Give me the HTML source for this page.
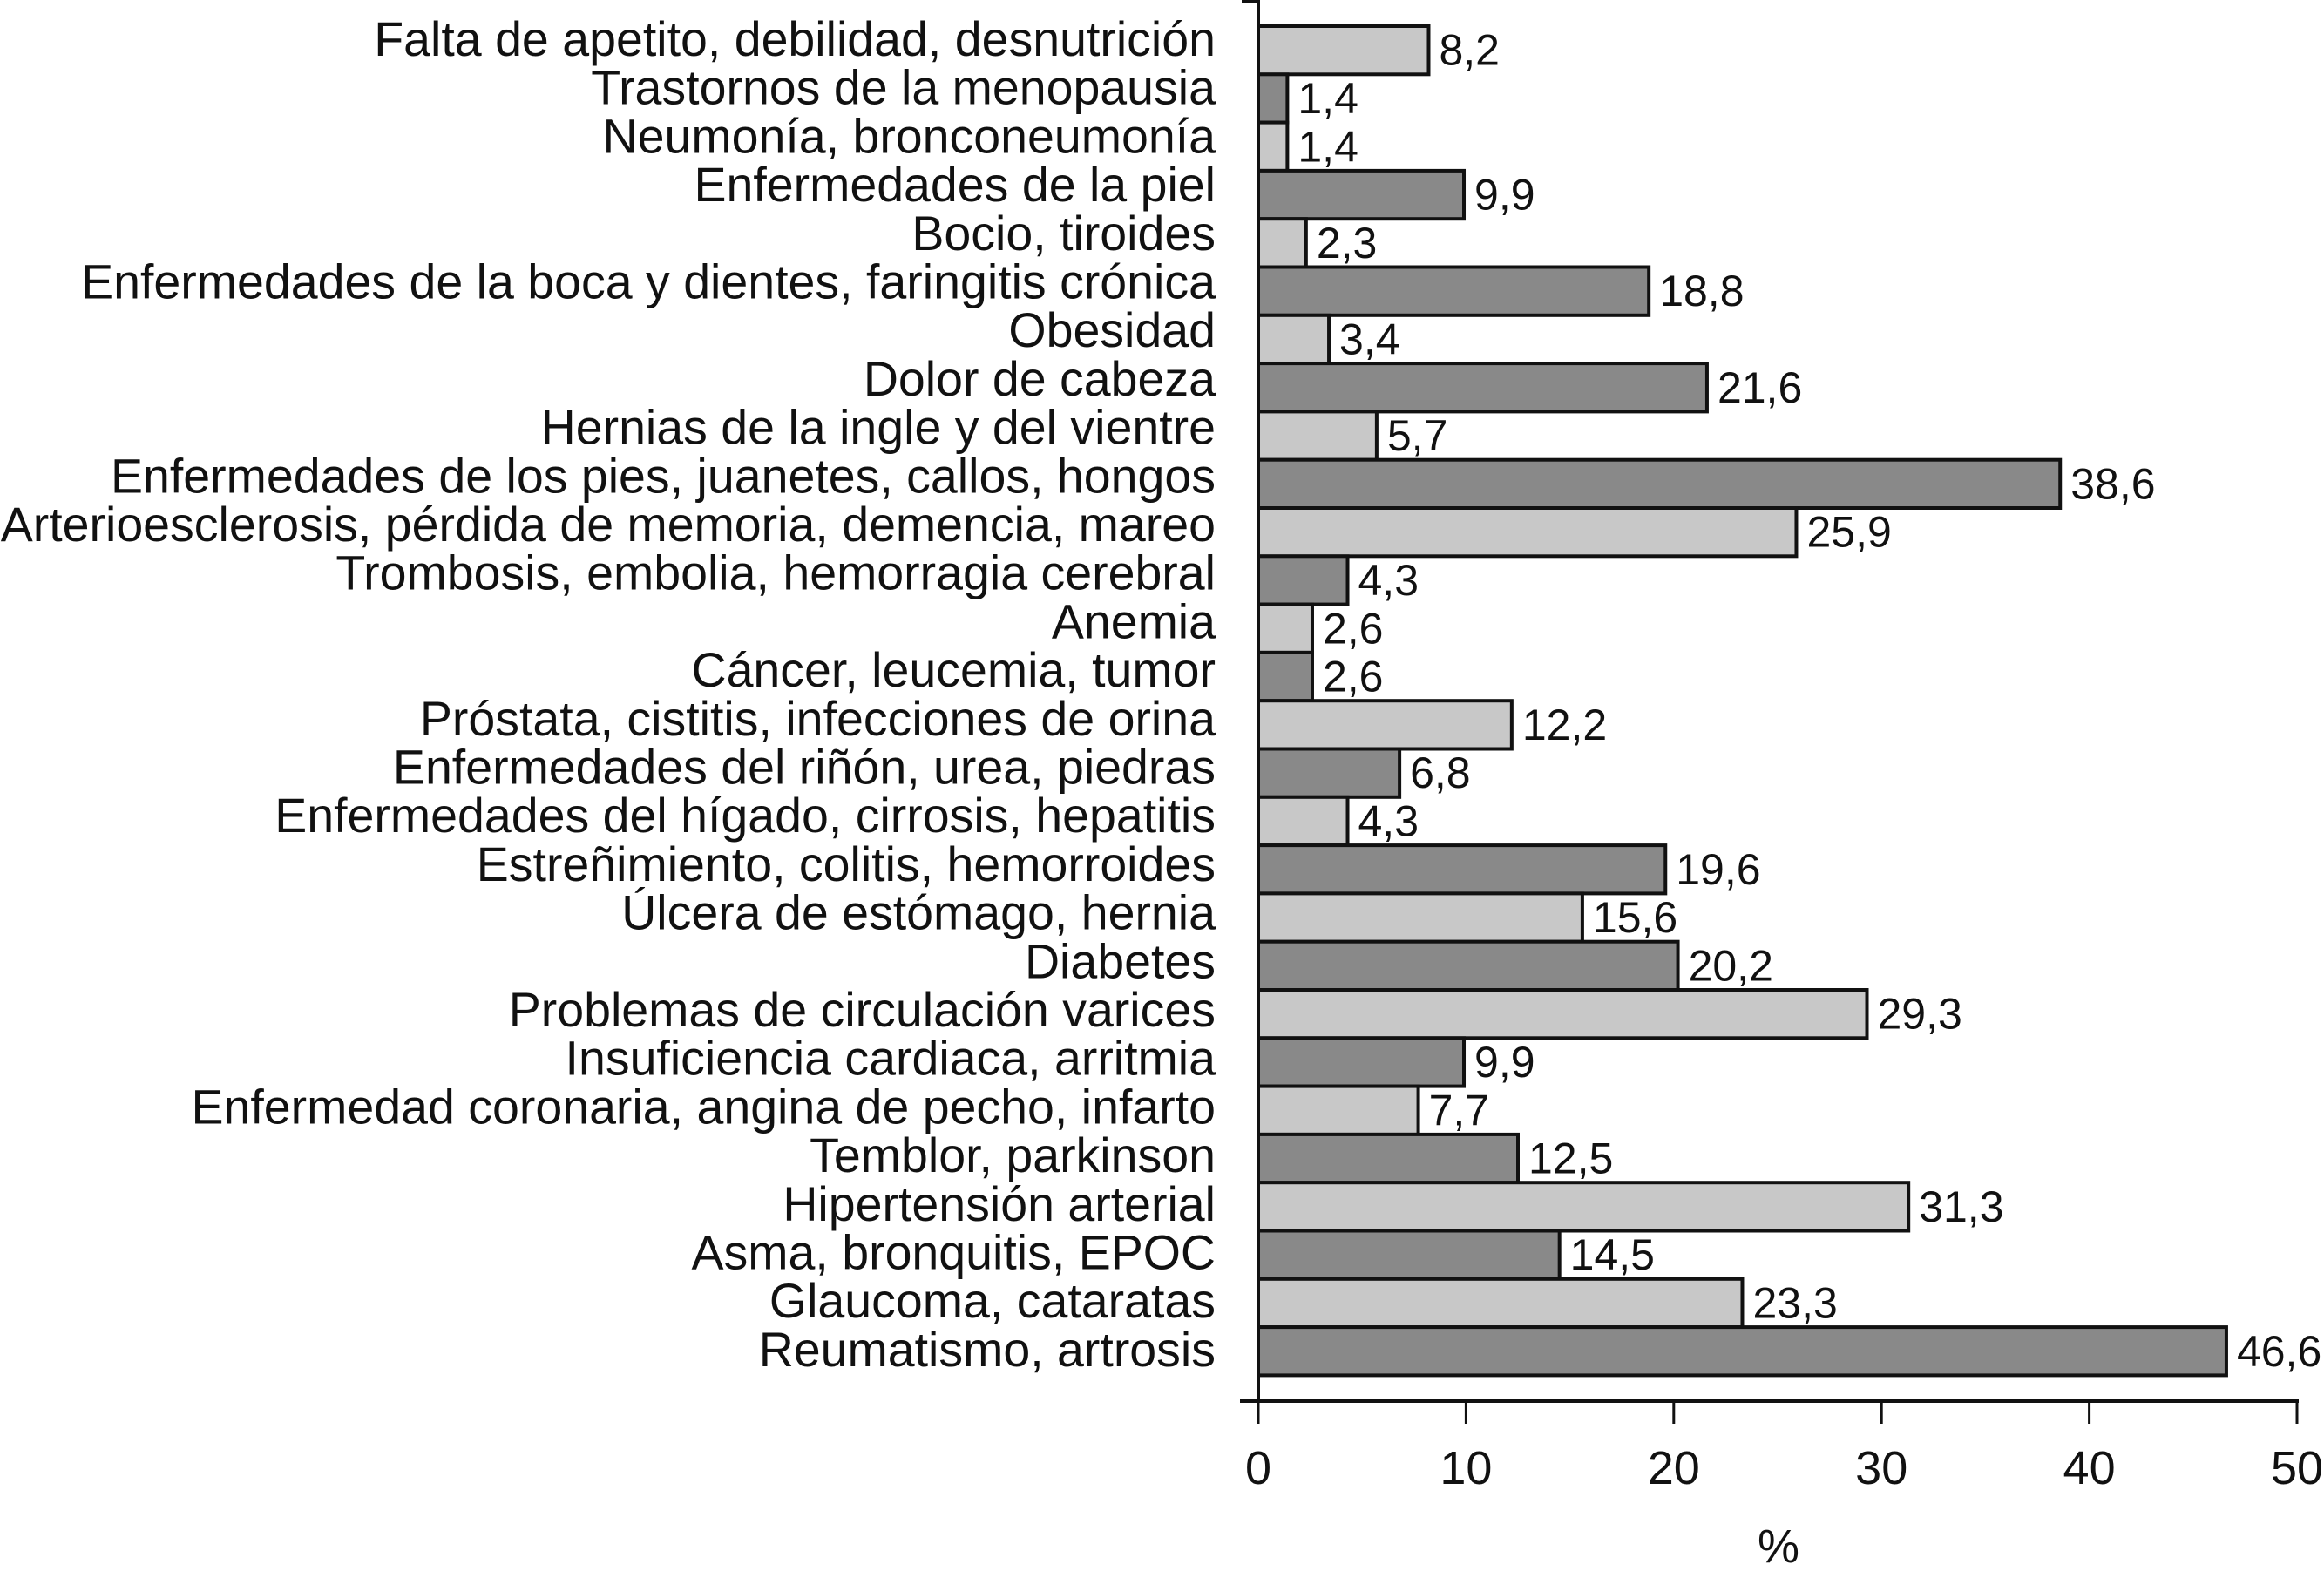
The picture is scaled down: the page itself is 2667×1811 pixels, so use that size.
<!DOCTYPE html>
<html><head><meta charset="utf-8"><style>
html,body{margin:0;padding:0;background:#fff;width:2667px;height:1811px;overflow:hidden}
svg{display:block;font-family:"Liberation Sans",Arial,sans-serif}
</style></head><body>
<svg id="chart" width="2667" height="1811" viewBox="0 0 2667 1811" xmlns="http://www.w3.org/2000/svg"></svg>
<script>
const categories = ["Falta de apetito, debilidad, desnutrición","Trastornos de la menopausia","Neumonía, bronconeumonía","Enfermedades de la piel","Bocio, tiroides","Enfermedades de la boca y dientes, faringitis crónica","Obesidad","Dolor de cabeza","Hernias de la ingle y del vientre","Enfermedades de los pies, juanetes, callos, hongos","Arterioesclerosis, pérdida de memoria, demencia, mareo","Trombosis, embolia, hemorragia cerebral","Anemia","Cáncer, leucemia, tumor","Próstata, cistitis, infecciones de orina","Enfermedades del riñón, urea, piedras","Enfermedades del hígado, cirrosis, hepatitis","Estreñimiento, colitis, hemorroides","Úlcera de estómago, hernia","Diabetes","Problemas de circulación varices","Insuficiencia cardiaca, arritmia","Enfermedad coronaria, angina de pecho, infarto","Temblor, parkinson","Hipertensión arterial","Asma, bronquitis, EPOC","Glaucoma, cataratas","Reumatismo, artrosis"];
const values = [8.2,1.4,1.4,9.9,2.3,18.8,3.4,21.6,5.7,38.6,25.9,4.3,2.6,2.6,12.2,6.8,4.3,19.6,15.6,20.2,29.3,9.9,7.7,12.5,31.3,14.5,23.3,46.6];
const valueLabels = ["8,2","1,4","1,4","9,9","2,3","18,8","3,4","21,6","5,7","38,6","25,9","4,3","2,6","2,6","12,2","6,8","4,3","19,6","15,6","20,2","29,3","9,9","7,7","12,5","31,3","14,5","23,3","46,6"];
const xTicks = [0,10,20,30,40,50];

const svg = document.getElementById('chart');
const NS = 'http://www.w3.org/2000/svg';
const x0 = 1444, pxPerUnit = 23.84, top0 = 30, pitch = 55.3, axisY = 1608;
const xScale = v => x0 + v * pxPerUnit;
const yScale = i => top0 + i * pitch;
const labelY = i => 44 + i * 55.7;
function mk(tag, attrs){const e=document.createElementNS(NS,tag);for(const k in attrs)e.setAttribute(k,attrs[k]);svg.appendChild(e);return e;}

categories.forEach((c,i)=>{
  const y = yScale(i);
  const r = mk('rect',{x:x0,y:y,width:xScale(values[i])-x0,height:pitch,fill:i%2===0?'#c8c8c8':'#898989',stroke:'#111','stroke-width':4});
  
  
  const t = mk('text',{x:1395,y:labelY(i)+20,'text-anchor':'end','font-size':55.5,fill:'#111'});
  t.textContent = c;
  
  
  const v = mk('text',{x:xScale(values[i])+12,y:y+pitch/2+17,'font-size':50,fill:'#111'});
  v.textContent = valueLabels[i];
  
  
});

const ya = mk('path',{d:`M1425 2 H${x0} V${axisY}`,fill:'none',stroke:'#111','stroke-width':4});


const xa = mk('line',{x1:1423,y1:axisY,x2:xScale(50)+2,y2:axisY,stroke:'#111','stroke-width':4});


xTicks.forEach(tk=>{
  const l = mk('line',{x1:xScale(tk),y1:axisY,x2:xScale(tk),y2:axisY+26,stroke:'#111','stroke-width':3});
  
  
  const t = mk('text',{x:xScale(tk),y:1703,'text-anchor':'middle','font-size':54,fill:'#111'});
  t.textContent = tk;
  
  
});
const xt = mk('text',{x:2041,y:1793,'text-anchor':'middle','font-size':54,fill:'#111'});
xt.textContent = '%';


</script>
</body></html>
